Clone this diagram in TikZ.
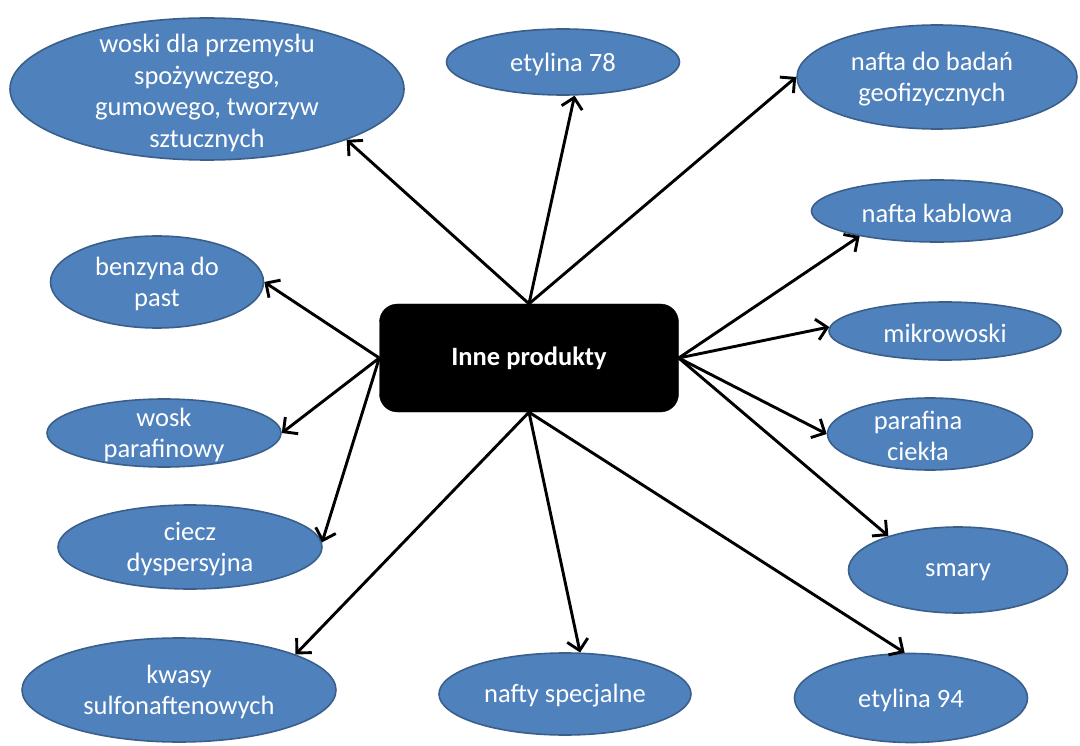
\documentclass[tikz,border=0pt]{standalone}
\usepackage{fontspec}
\setmainfont{Carlito}
\usetikzlibrary{shapes.geometric,arrows.meta}
\definecolor{bubfill}{HTML}{4F81BD}
\definecolor{bubline}{HTML}{3A5F8B}
\begin{document}
\begin{tikzpicture}[x=1pt,y=-1pt,
  bub/.style={ellipse, draw=bubline, line width=1.6pt, fill=bubfill, inner sep=0pt},
  txt/.style={text=white, align=center, yshift=-2pt, font=\fontsize{26.5}{31.5}\selectfont},
  hub/.style={rectangle, rounded corners=18pt, fill=black, draw=black, inner sep=0pt,
              minimum width=299pt, minimum height=108pt,
              text=white, font=\fontsize{26.5}{31}\selectfont\bfseries},
  arr/.style={line width=2.9pt, -{Straight Barb[length=10.5pt,width=21pt,line width=2.9pt]}}]
\useasboundingbox (0,0) rectangle (1080,746);

% central box
\node[hub] (hub) at (529,358) {Inne produkty};

% product ellipses
\node[bub, minimum width=394pt, minimum height=142pt] (woski) at (207,89) {};
\node[bub, minimum width=233pt, minimum height=66pt]  (et78)  at (563,62) {};
\node[bub, minimum width=280pt, minimum height=104pt] (badan) at (937,77) {};
\node[bub, minimum width=251pt, minimum height=62pt]  (kabl)  at (937,211) {};
\node[bub, minimum width=232pt, minimum height=58pt]  (mikro) at (945,331) {};
\node[bub, minimum width=205pt, minimum height=72pt]  (paraf) at (930,434) {};
\node[bub, minimum width=219pt, minimum height=86pt]  (smary) at (958,570) {};
\node[bub, minimum width=233pt, minimum height=89pt]  (et94)  at (911,698) {};
\node[bub, minimum width=252pt, minimum height=82pt]  (nafty) at (565,694) {};
\node[bub, minimum width=314pt, minimum height=104pt] (kwasy) at (179,690) {};
\node[bub, minimum width=264pt, minimum height=84pt]  (ciecz) at (190,547) {};
\node[bub, minimum width=234pt, minimum height=68pt]  (wosk)  at (164,433) {};
\node[bub, minimum width=213pt, minimum height=92pt]  (benz)  at (157,282) {};

% labels
\node[txt] at ([yshift=-2pt]woski.center) {woski dla przemysłu\\spożywczego,\\gumowego, tworzyw\\sztucznych};
\node[txt] at (et78)  {etylina 78};
\node[txt] at ([xshift=-5pt]badan.center) {nafta do badań\\geofizycznych};
\node[txt] at (kabl)  {nafta kablowa};
\node[txt] at (mikro) {mikrowoski};
\node[txt] at ([xshift=-12pt]paraf.center) {parafina\\ciekła};
\node[txt] at (smary) {smary};
\node[txt] at (et94)  {etylina 94};
\node[txt] at (nafty) {nafty specjalne};
\node[txt] at (kwasy) {kwasy\\sulfonaftenowych};
\node[txt] at (ciecz) {ciecz\\dyspersyjna};
\node[txt] at (wosk)  {wosk\\parafinowy};
\node[txt] at (benz)  {benzyna do\\past};

% connectors
\draw[arr] (hub.north) -- (woski.-20);
\draw[arr] (hub.north) -- (et78.-71);
\draw[arr] (hub.north) -- (badan.180);
\draw[arr] (hub.east)  -- (kabl.198);
\draw[arr] (hub.east)  -- (mikro.178);
\draw[arr] (hub.east)  -- (paraf.180);
\draw[arr] (hub.east)  -- (smary.154);
\draw[arr] (hub.south) -- (et94.98);
\draw[arr] (hub.south) -- (nafty.70);
\draw[arr] (hub.south) -- (kwasy.17);
\draw[arr] (hub.west)  -- (ciecz.2);
\draw[arr] (hub.west)  -- (wosk.0);
\draw[arr] (hub.west)  -- (benz.0);
\end{tikzpicture}
\end{document}
